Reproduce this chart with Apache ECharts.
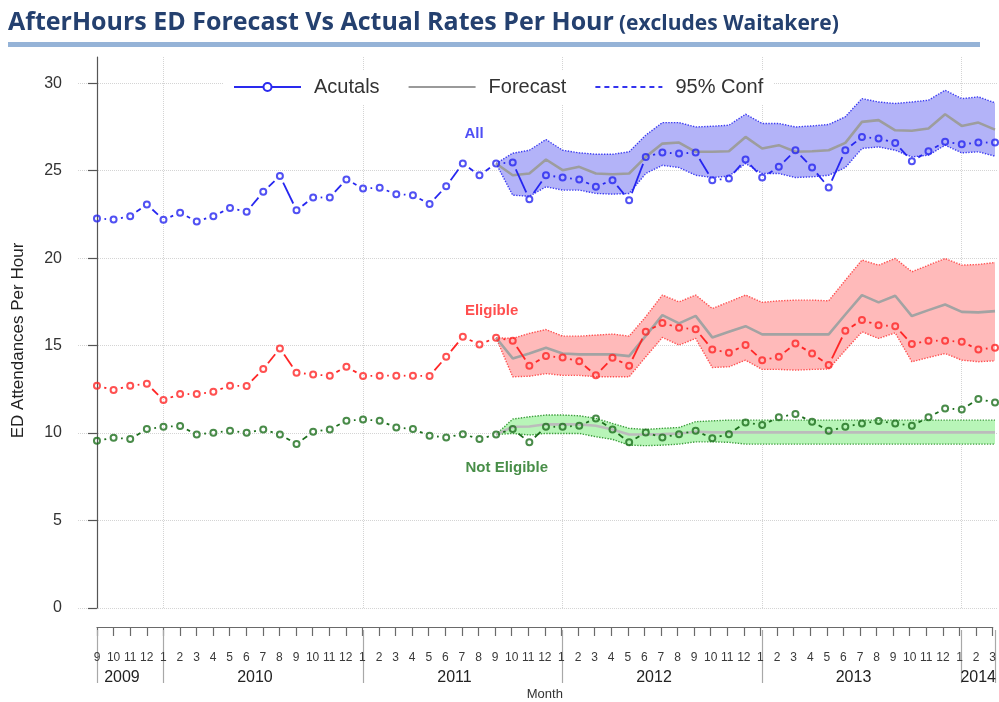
<!DOCTYPE html>
<html>
<head>
<meta charset="utf-8">
<script src="https://cdn.jsdelivr.net/npm/echarts@6/dist/echarts.min.js"></script>
<style>
  html, body { margin: 0; padding: 0; background: #fff; }
  #chart { width: 999px; height: 702px; }
</style>
</head>
<body>
<div id="chart"></div>
<script>
// ---- text ----
const titleMain = 'AfterHours ED Forecast Vs Actual Rates Per Hour';
const titleSub = '(excludes Waitakere)';
const yAxisTitle = 'ED Attendances Per Hour';
const xAxisTitle = 'Month';

// ---- axis labels: Sep 2009 .. Mar 2014 (55 months) ----
const monthLabels = ['9','10','11','12',
  '1','2','3','4','5','6','7','8','9','10','11','12',
  '1','2','3','4','5','6','7','8','9','10','11','12',
  '1','2','3','4','5','6','7','8','9','10','11','12',
  '1','2','3','4','5','6','7','8','9','10','11','12',
  '1','2','3'];
const yearLabels = ['2009', '2010', '2011', '2012', '2013', '2014'];
const yearStarts = [0, 4, 16, 28, 40, 52];   // month index where each year begins
const yTicks = [0, 5, 10, 15, 20, 25, 30];

// ---- actual rates per hour, by month ----
const allActual = [22.27, 22.21, 22.4, 23.07, 22.2, 22.59, 22.1, 22.4, 22.87, 22.65, 23.79, 24.7,
  22.74, 23.47, 23.47, 24.5, 23.98, 24.02, 23.66, 23.6, 23.09, 24.11, 25.41, 24.74,
  25.41, 25.47, 23.37, 24.74, 24.61, 24.5, 24.08, 24.46, 23.31, 25.79, 26.04, 25.98,
  26.04, 24.46, 24.55, 25.64, 24.61, 25.22, 26.17, 25.18, 24.04, 26.17, 26.93, 26.84,
  26.59, 25.54, 26.11, 26.65, 26.51, 26.61, 26.61];
const eligActual = [12.71, 12.46, 12.71, 12.82, 11.89, 12.23, 12.23, 12.36, 12.71, 12.69, 13.66, 14.84,
  13.45, 13.35, 13.28, 13.79, 13.26, 13.28, 13.28, 13.28, 13.26, 14.36, 15.5, 15.07,
  15.45, 15.28, 13.85, 14.4, 14.32, 14.11, 13.3, 14.3, 13.85, 15.79, 16.3, 16.02,
  15.94, 14.78, 14.59, 15.03, 14.17, 14.36, 15.12, 14.55, 13.89, 15.85, 16.46, 16.17,
  16.11, 15.09, 15.28, 15.28, 15.22, 14.78, 14.88];
const notEligActual = [9.56, 9.73, 9.66, 10.23, 10.36, 10.4, 9.92, 10.02, 10.13, 10.02, 10.21, 9.92,
  9.37, 10.08, 10.21, 10.7, 10.78, 10.7, 10.32, 10.23, 9.85, 9.75, 9.94, 9.66,
  9.92, 10.23, 9.47, 10.36, 10.36, 10.42, 10.84, 10.21, 9.47, 10.04, 9.75, 9.94,
  10.13, 9.7, 9.94, 10.61, 10.46, 10.9, 11.09, 10.65, 10.13, 10.36, 10.55, 10.69,
  10.55, 10.42, 10.9, 11.41, 11.35, 11.95, 11.75];

// ---- forecast and 95% limits, Sep 2011 .. Mar 2014 ----
const FC_START = 24;  // month index of Sep 2011
const allForecast = [25.41, 24.74, 24.84, 25.64, 25.03, 25.22, 24.84, 24.8, 24.84, 25.79, 26.55,
  26.61, 26.08, 26.08, 26.11, 26.93, 26.27, 26.46, 26.08, 26.11, 26.17, 26.59,
  27.79, 27.89, 27.31, 27.28, 27.41, 28.23, 27.56, 27.75, 27.35];
const allUpper = [25.41, 26.0, 26.17, 26.78, 26.17, 26.02, 25.94, 25.94, 26.08, 27.03, 27.75,
  27.75, 27.5, 27.54, 27.6, 28.23, 27.7, 27.7, 27.5, 27.56, 27.64, 28.08,
  29.12, 28.93, 28.84, 28.93, 29.03, 29.6, 29.12, 29.22, 28.88];
const allLower = [25.41, 23.6, 23.54, 24.08, 23.89, 23.89, 23.7, 23.66, 23.7, 24.84, 25.31,
  25.18, 24.74, 24.61, 24.69, 25.41, 24.84, 24.84, 24.61, 24.65, 24.74, 25.18,
  26.27, 26.36, 26.17, 25.79, 25.89, 26.46, 26.02, 26.08, 25.83];

const eligForecast = [15.45, 14.27, 14.55, 14.88, 14.55, 14.5, 14.5, 14.5, 14.4, 15.56, 16.74,
  16.27, 16.7, 15.47, 15.79, 16.11, 15.64, 15.64, 15.64, 15.64, 15.64, 16.78,
  17.89, 17.47, 17.85, 16.69, 17.03, 17.35, 16.93, 16.9, 16.97];
const eligUpper = [15.45, 15.41, 15.7, 15.92, 15.54, 15.54, 15.6, 15.66, 15.54, 16.65, 17.89,
  17.5, 17.89, 17.12, 17.5, 17.89, 17.47, 17.56, 17.6, 17.6, 17.56, 18.74,
  19.89, 19.6, 19.98, 19.22, 19.6, 19.98, 19.6, 19.64, 19.75];
const eligLower = [15.45, 13.22, 13.25, 13.4, 13.3, 13.3, 13.22, 13.22, 13.22, 14.36, 15.47,
  15.03, 15.41, 13.75, 13.79, 14.17, 13.64, 13.64, 13.6, 13.64, 13.66, 14.74,
  15.79, 15.41, 15.73, 14.08, 14.32, 14.55, 14.17, 14.08, 14.13];

const notEligForecast = [9.92, 10.36, 10.38, 10.5, 10.5, 10.5, 10.42, 10.21, 9.92, 9.92, 9.94,
  9.98, 10.08, 10.04, 10.04, 10.04, 10.04, 10.04, 10.04, 10.04, 10.04, 10.04,
  10.04, 10.04, 10.04, 10.04, 10.04, 10.04, 10.04, 10.04, 10.04];
const notEligUpper = [9.92, 10.8, 10.93, 11.03, 11.03, 10.99, 10.84, 10.55, 10.27, 10.21, 10.27,
  10.32, 10.65, 10.7, 10.74, 10.74, 10.74, 10.74, 10.74, 10.74, 10.74, 10.74,
  10.74, 10.74, 10.74, 10.74, 10.74, 10.74, 10.74, 10.74, 10.74];
const notEligLower = [9.92, 9.98, 9.89, 9.98, 9.98, 9.98, 9.79, 9.64, 9.31, 9.28, 9.31,
  9.37, 9.5, 9.5, 9.47, 9.37, 9.37, 9.37, 9.37, 9.37, 9.37, 9.37,
  9.37, 9.37, 9.37, 9.37, 9.37, 9.37, 9.37, 9.37, 9.37];

// ---- group labels placed in data space ----
const tagNames = ['All', 'Eligible', 'Not Eligible'];
const tagX = [22.67, 23.73, 24.64];
const tagY = [27.1, 17.0, 8.0];

// ---------------------------------------------------------------
const FONT = '"Liberation Sans", Arial, Helvetica, sans-serif';
const TITLE_FONT = '"Open Sans", Lato, sans-serif';
const GAP = 7.5;   // px left open around each point (R type="b" style)

const groups = [
  { key: 'all', actual: allActual, fc: allForecast, up: allUpper, lo: allLower,
    color: '#2626f0', fill: '#b3b3f8', edge: '#3d3df2', fcColor: '#9d9d9d', tag: '#2222f2' },
  { key: 'elig', actual: eligActual, fc: eligForecast, up: eligUpper, lo: eligLower,
    color: '#ff2626', fill: '#ffbaba', edge: '#ff5252', fcColor: '#a3a3a3', tag: '#ff2222' },
  { key: 'ne', actual: notEligActual, fc: notEligForecast, up: notEligUpper, lo: notEligLower,
    color: '#1c6e1c', fill: '#b8f5b8', edge: '#3c9e3c', fcColor: '#bcbcbc', tag: '#1a721a' }
];

const toPairs = (arr, start) => arr.map((v, k) => [start + k, v]);

const yearCenters = yearStarts.map((s, k) => {
  const e = k + 1 < yearStarts.length ? yearStarts[k + 1] - 1 : monthLabels.length - 1;
  return (s + e) / 2;
});
const lastIdx = monthLabels.length - 1;

const series = [];

// legend-only entries
series.push({
  name: 'Acutals', type: 'line', data: [], xAxisIndex: 0, yAxisIndex: 0,
  symbol: 'emptyCircle', symbolSize: 8,
  lineStyle: { color: '#2a2aee', width: 3 }, itemStyle: { color: '#2a2aee', borderWidth: 2 }
});
series.push({
  name: 'Forecast', type: 'line', data: [], xAxisIndex: 0, yAxisIndex: 0,
  symbol: 'none', lineStyle: { color: '#9a9a9a', width: 3 }, itemStyle: { color: '#9a9a9a' }
});
series.push({
  name: '95% Conf', type: 'line', data: [], xAxisIndex: 0, yAxisIndex: 0,
  symbol: 'none', lineStyle: { color: '#3434ee', width: 1.5, type: [5, 4] }, itemStyle: { color: '#3434ee' }
});

groups.forEach(g => {
  // filled 95% interval: one polygon through upper limits, back through lower limits
  series.push({
    type: 'custom', z: 1, silent: true,
    data: g.up.map((v, k) => [FC_START + k, g.lo[k], v]),
    encode: { x: 0, y: [1, 2] },
    renderItem: (params, api) => {
      if (params.dataIndex !== 0) return null;
      const pts = [];
      g.up.forEach((v, k) => pts.push(api.coord([FC_START + k, v])));
      for (let k = g.lo.length - 1; k >= 0; k--) pts.push(api.coord([FC_START + k, g.lo[k]]));
      return { type: 'polygon', shape: { points: pts }, style: { fill: g.fill, stroke: null } };
    }
  });
  // dotted limit lines
  [g.lo, g.up].forEach(lim => series.push({
    type: 'line', data: toPairs(lim, FC_START), symbol: 'none', z: 1, silent: true,
    lineStyle: { color: g.edge, width: 1.4, type: 'dotted' }
  }));
  // forecast
  series.push({
    type: 'line', data: toPairs(g.fc, FC_START), symbol: 'none', z: 2, silent: true,
    lineStyle: { color: g.fcColor, width: 2.6 }
  });
  // actual: connecting segments with open gaps at the points
  series.push({
    type: 'custom', z: 3, silent: true,
    data: g.actual.slice(0, -1).map((v, i) => [i, v, g.actual[i + 1]]),
    encode: { x: 0, y: 1 },
    renderItem: (params, api) => {
      const i = api.value(0);
      const p0 = api.coord([i, api.value(1)]);
      const p1 = api.coord([i + 1, api.value(2)]);
      const dx = p1[0] - p0[0], dy = p1[1] - p0[1];
      const len = Math.sqrt(dx * dx + dy * dy);
      if (len <= 2 * GAP + 0.5) return null;
      const ux = dx / len, uy = dy / len;
      return {
        type: 'line',
        shape: { x1: p0[0] + ux * GAP, y1: p0[1] + uy * GAP, x2: p1[0] - ux * GAP, y2: p1[1] - uy * GAP },
        style: { stroke: g.color, lineWidth: 1.8, fill: null }
      };
    }
  });
  // actual: open circles
  series.push({
    type: 'scatter', data: toPairs(g.actual, 0), z: 4, silent: true,
    symbol: 'circle', symbolSize: 6,
    itemStyle: { color: 'rgba(255,255,255,0)', borderColor: g.color, borderWidth: 2 }
  });
});

// group names
tagNames.forEach((t, k) => {
  series.push({
    type: 'scatter', z: 5, silent: true, symbolSize: 0,
    data: [[tagX[k], tagY[k]]],
    label: { show: true, position: 'inside', formatter: t,
             fontFamily: FONT, fontWeight: 'bold', fontSize: 15, color: groups[k].tag }
  });
});

// hidden value axes for the two bottom bands
const hiddenY = (gi) => ({ gridIndex: gi, type: 'value', show: false, min: 0, max: 1 });

const option = {
  animation: false,
  backgroundColor: '#fff',
  title: {
    left: 3, top: 5,
    text: '{a|' + titleMain + '} {b|' + titleSub + '}',
    textStyle: {
      rich: {
        a: { fontFamily: TITLE_FONT, fontWeight: 'bold', fontSize: 25, color: '#24406f', verticalAlign: 'bottom' },
        b: { fontFamily: TITLE_FONT, fontWeight: 'bold', fontSize: 21, color: '#24406f', verticalAlign: 'bottom' }
      }
    }
  },
  graphic: [
    { type: 'rect', left: 8, top: 42, shape: { width: 972, height: 5 }, style: { fill: '#95b3d7' }, silent: true }
  ],
  legend: {
    data: [
      { name: 'Acutals' },
      { name: 'Forecast', itemStyle: { color: 'rgba(0,0,0,0)', borderWidth: 0 } },
      { name: '95% Conf', itemStyle: { color: 'rgba(0,0,0,0)', borderWidth: 0 } }
    ],
    left: 223, top: 70,
    padding: [7, 10, 7, 10],
    backgroundColor: '#fff',
    itemWidth: 67, itemHeight: 10, itemGap: 28,
    z: 10,
    textStyle: { fontFamily: FONT, fontSize: 20, color: '#333', padding: [0, 0, 0, 8] }
  },
  grid: [
    { left: 78, right: 2, top: 57, height: 551 },
    { left: 97, right: 4, top: 560, height: 70 },
    { left: 97, right: 4, top: 560, height: 70 }
  ],
  xAxis: [
    { // plotting axis: month index
      gridIndex: 0, type: 'value', min: -1.14, max: 54.12,
      axisLine: { show: false },
      axisTick: { show: false, customValues: yearStarts.slice(1) },
      axisLabel: { show: false },
      splitLine: { show: true, lineStyle: { color: '#d4d4d4', type: 'dotted', width: 1 } }
    },
    { // month numbers
      gridIndex: 1, type: 'value', min: 0, max: lastIdx, interval: 1,
      position: 'bottom',
      axisLine: { show: true, lineStyle: { color: '#6a6a6a', width: 1.2 } },
      axisTick: { show: true, length: 9, lineStyle: { color: '#6a6a6a', width: 1.2 } },
      axisLabel: { margin: 25, fontFamily: FONT, fontSize: 12, color: '#3a3a3a',
                   formatter: v => monthLabels[Math.round(v)] || '' },
      splitLine: { show: false },
      name: xAxisTitle, nameLocation: 'middle', nameGap: 61,
      nameTextStyle: { fontFamily: FONT, fontSize: 13, color: '#333' }
    },
    { // years, with separators
      gridIndex: 2, type: 'value', min: 0, max: lastIdx,
      position: 'bottom',
      axisLine: { show: false },
      axisTick: { show: true, length: 53, customValues: yearStarts.concat([lastIdx]),
                  lineStyle: { color: '#a8a8a8', width: 1.2 } },
      axisLabel: { margin: 40, fontFamily: FONT, fontSize: 16, color: '#222',
                   customValues: yearCenters,
                   formatter: v => {
                     const k = yearCenters.findIndex(c => Math.abs(c - v) < 1e-6);
                     return k >= 0 ? yearLabels[k] : '';
                   } },
      splitLine: { show: false }
    }
  ],
  yAxis: [
    {
      gridIndex: 0, type: 'value', min: 0, max: 31.5,
      axisLine: { show: true, lineStyle: { color: '#555', width: 1.2 } },
      axisTick: { show: true, length: 9, customValues: yTicks, lineStyle: { color: '#555', width: 1.2 } },
      axisLabel: { customValues: yTicks, margin: 16, fontFamily: FONT, fontSize: 16, color: '#333' },
      splitLine: { show: true, lineStyle: { color: '#d4d4d4', type: 'dotted', width: 1 } },
      name: yAxisTitle, nameLocation: 'middle', nameGap: 51,
      nameTextStyle: { fontFamily: FONT, fontSize: 17, color: '#222', padding: [0, 16, 0, 0] }
    },
    hiddenY(1),
    hiddenY(2)
  ],
  series: series
};

const chart = echarts.init(document.getElementById('chart'), null, { renderer: 'canvas' });
chart.setOption(option);
</script>
</body>
</html>
